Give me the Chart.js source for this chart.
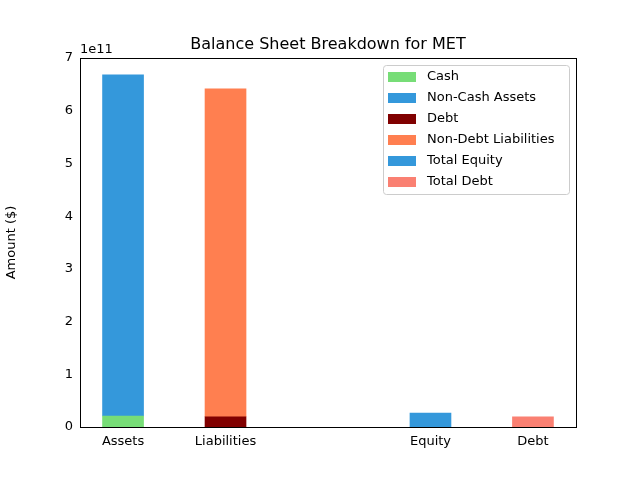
<!DOCTYPE html>
<html>
<head>
<script src="https://cdn.jsdelivr.net/npm/chart.js@4"></script>
<style>body{margin:0;background:#fff}</style>
</head>
<body>
<canvas id="c" width="640" height="480"></canvas>
<script>
// Category positions (gap left at 2, like the original)
const categories = ["Assets", "Liabilities", "Equity", "Debt"];
const positions = [0, 1, 3, 4];

// Values in dollars
const cash = [2.15e10];
const nonCashAssets = [6.67e11];
const debt = [2.0e10];
const nonDebtLiabilities = [6.41e11];
const totalEquity = [2.7e10];
const totalDebt = [2.0e10];

const font = "DejaVu Sans";

function bar(label, x, vals, color) {
  return {
    label: label,
    data: vals.map(v => ({ x: x, y: v })),
    backgroundColor: color,
    barThickness: 41
  };
}

// Title, 1e11 offset, frame and matplotlib-like legend
const decor = {
  id: "decor",
  afterDraw(chart) {
    const c = chart.ctx;
    const a = chart.chartArea;
    c.save();
    c.strokeStyle = "#000";
    c.lineWidth = 1;
    c.strokeRect(a.left + 0.5, a.top + 0.5, a.right - a.left, a.bottom - a.top);

    c.fillStyle = "#000";
    c.font = "16px '" + font + "'";
    c.textAlign = "center";
    c.textBaseline = "alphabetic";
    c.fillText("Balance Sheet Breakdown for MET", (a.left + a.right) / 2, 49);
    c.font = "13px '" + font + "'";
    c.textAlign = "left";
    c.fillText("1e11", a.left, 53);

    // legend box
    const lx = 383, ly = 65, lw = 186, lh = 129;
    c.fillStyle = "rgba(255,255,255,0.8)";
    c.strokeStyle = "#ccc";
    c.beginPath();
    c.roundRect(lx + 0.5, ly + 0.5, lw, lh, 3);
    c.fill();
    c.stroke();
    chart.data.datasets.forEach((ds, i) => {
      const y = ly + 11 + i * 21;
      c.fillStyle = ds.backgroundColor;
      c.fillRect(lx + 5, y - 4, 28, 10);
      c.fillStyle = "#000";
      c.textBaseline = "middle";
      c.fillText(ds.label, lx + 44, y + 1);
    });
    c.restore();
  }
};

new Chart(document.getElementById("c"), {
  type: "bar",
  data: {
    datasets: [
      bar("Cash", positions[0], cash, "#77dd77"),
      bar("Non-Cash Assets", positions[0], nonCashAssets, "#3498db"),
      bar("Debt", positions[1], debt, "#800000"),
      bar("Non-Debt Liabilities", positions[1], nonDebtLiabilities, "#ff7f50"),
      bar("Total Equity", positions[2], totalEquity, "#3498db"),
      bar("Total Debt", positions[3], totalDebt, "#fa8072")
    ]
  },
  options: {
    responsive: false,
    animation: false,
    layout: { padding: { top: 58, right: 64, left: 0, bottom: 0 } },
    plugins: { legend: { display: false }, tooltip: { enabled: false } },
    scales: {
      x: {
        type: "linear",
        stacked: true,
        min: -0.42,
        max: 4.42,
        offset: false,
        grid: { display: false, drawTicks: true, tickLength: 4, tickColor: "#000" },
        border: { color: "#000" },
        afterBuildTicks: s => { s.ticks = positions.map(p => ({ value: p })); },
        afterFit: s => { s.height = 53; },
        ticks: {
          color: "#000",
          font: { family: font, size: 13 },
          maxRotation: 0,
          autoSkip: false,
          callback: v => categories[positions.indexOf(v)]
        }
      },
      y: {
        stacked: true,
        min: 0,
        max: 7.215e11,
        grid: { display: false, drawTicks: true, tickLength: 4, tickColor: "#000" },
        border: { color: "#000" },
        afterFit: s => { s.width = 80; },
        ticks: {
          stepSize: 1e11,
          color: "#000",
          font: { family: font, size: 13 },
          callback: v => Math.round(v / 1e11)
        },
        title: { display: true, text: "Amount ($)", color: "#000", font: { family: font, size: 13 } }
      }
    }
  },
  plugins: [decor]
});
</script>
</body>
</html>
